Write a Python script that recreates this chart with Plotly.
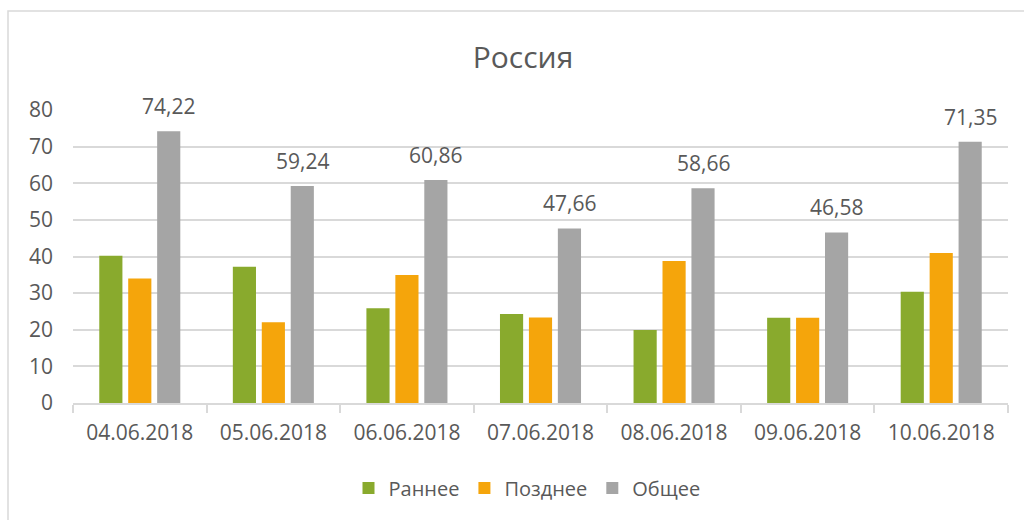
import plotly.graph_objects as go

dates = ["04.06.2018", "05.06.2018", "06.06.2018", "07.06.2018",
         "08.06.2018", "09.06.2018", "10.06.2018"]
early = [40.2, 37.2, 25.9, 24.3, 19.9, 23.3, 30.4]
late = [34.02, 22.04, 34.96, 23.36, 38.76, 23.28, 40.95]
total = [74.22, 59.24, 60.86, 47.66, 58.66, 46.58, 71.35]
total_labels = ["74,22", "59,24", "60,86", "47,66", "58,66", "46,58", "71,35"]
y_ticks = [0, 10, 20, 30, 40, 50, 60, 70, 80]

FONT = "Open Sans"
TXT = "#595959"
W, H = 1024, 520
L, R, T, B = 73, 16, 110, 117

fig = go.Figure()
fig.add_trace(go.Bar(name="Раннее", x=dates, y=early, marker_color="#89AA2D", marker_line_width=0))
fig.add_trace(go.Bar(name="Позднее", x=dates, y=late, marker_color="#F5A50B", marker_line_width=0))
fig.add_trace(go.Bar(name="Общее", x=dates, y=total, marker_color="#A5A5A5", marker_line_width=0))

for d, v, t in zip(dates, total, total_labels):
    fig.add_annotation(x=d, y=v, text=t, showarrow=False, xshift=29, yshift=9,
                       yanchor="bottom", font=dict(family=FONT, size=21, color=TXT))

pw = W - L - R
ph = H - T - B
fig.add_shape(type="rect", xref="paper", yref="paper",
              x0=(8 - L) / pw, x1=(1030 - L) / pw,
              y0=-(530 - T - ph) / ph, y1=1 + (T - 11) / ph,
              line=dict(color="#D9D9D9", width=1.5), layer="below")

fig.update_layout(
    width=W, height=H,
    margin=dict(l=L, r=R, t=T, b=B),
    paper_bgcolor="white", plot_bgcolor="white",
    barmode="group", bargap=0.35, bargroupgap=0.2,
    title=dict(text="Россия", x=523 / W, xref="container", xanchor="center",
               y=1 - 57 / H, yanchor="middle",
               font=dict(family=FONT, size=30, color=TXT)),
    font=dict(family=FONT, size=21, color=TXT),
    legend=dict(orientation="h", x=(527 - L) / pw, xanchor="center", y=-(488 - 403) / ph,
                yanchor="middle", font=dict(family=FONT, size=20, color=TXT),
                itemwidth=30, traceorder="normal"),
    showlegend=True,
)
fig.update_yaxes(range=[0, 80], tickvals=y_ticks, showgrid=True, gridcolor="#D9D9D9",
                 gridwidth=1.5, zeroline=False, showline=False, ticks="",
                 tickfont=dict(family=FONT, size=21, color=TXT), ticklabelstandoff=19)
fig.update_xaxes(showline=True, linecolor="#D9D9D9", linewidth=1.5, ticks="outside",
                 tickson="boundaries", ticklen=8, tickcolor="#D9D9D9", tickwidth=1.5,
                 tickfont=dict(family=FONT, size=21, color=TXT), showgrid=False,
                 ticklabelstandoff=10)

fig.write_html("out.html", config={"displayModeBar": False},
               post_script="document.body.style.margin='0';")
